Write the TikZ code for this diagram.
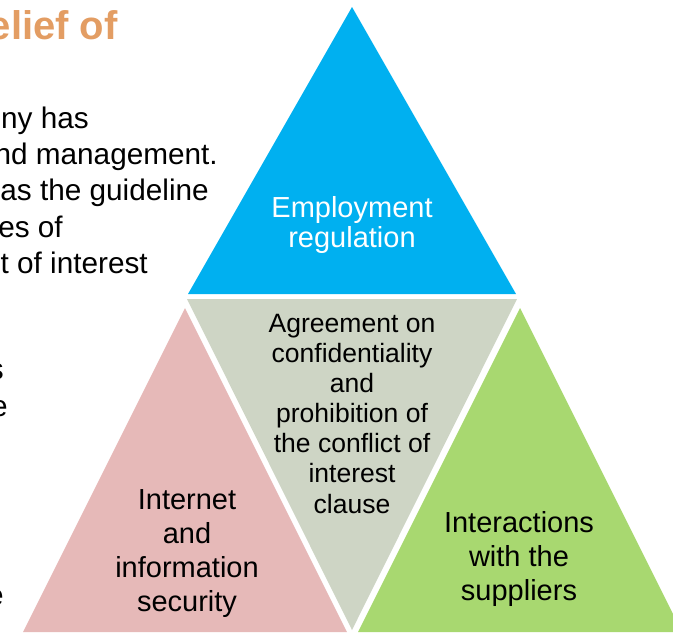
\documentclass[tikz,border=0pt]{standalone}
\usepackage{fontspec}
\setmainfont{Liberation Sans}
\usepackage{tikz}
\usetikzlibrary{positioning}
\definecolor{regblue}{RGB}{0,176,240}
\definecolor{agreegray}{RGB}{206,213,197}
\definecolor{netpink}{RGB}{230,185,184}
\definecolor{supgreen}{RGB}{168,216,112}
\definecolor{titleorange}{RGB}{227,157,99}

\tikzset{
  trilabel/.style={align=center, anchor=base, inner sep=0pt,
    font=\fontsize{21.75}{22.5}\selectfont},
  sidetext/.style={anchor=base east, inner sep=0pt,
    font=\fontsize{22.3}{27}\selectfont}
}

\begin{document}
\begin{tikzpicture}[x=0.75pt, y=-0.75pt]
  \useasboundingbox (0,0) rectangle (673,633);

  % the four triangles
  \fill[regblue]   (352,7)   -- (188,294) -- (516,294) -- cycle;
  \fill[agreegray] (187,299) -- (517,299) -- (352,630) -- cycle;
  \fill[netpink]   (185,308) -- (23,632)  -- (347,632) -- cycle;
  \fill[supgreen]  (520,308) -- (358,632) -- (682,632) -- cycle;

  % labels, placed at the baseline of their last line
  \node[trilabel, text=white] (employ) at (352,247)
    {Employment\\regulation};
  \node[trilabel, font=\fontsize{19.9}{22.6}\selectfont] (agree) at (352,513)
    {Agreement on\\confidentiality\\and\\prohibition of\\the conflict of\\interest\\clause};
  \node[trilabel, font=\fontsize{21.75}{25.5}\selectfont] (internet) at (187,611)
    {Internet\\and\\information\\security};
  \node[trilabel, font=\fontsize{21.75}{25.5}\selectfont] (supply) at (519,600)
    {Interactions\\with the\\suppliers};

  % text of the slide, cut at the left edge
  \begin{scope}
    \clip (0,0) rectangle (673,633);
    \node[sidetext, text=titleorange, font=\fontsize{30}{36}\selectfont\bfseries]
      (title) at (118,39) {elief of};
    \node[sidetext] (line1) at (89,128) {ny has};
    \node[sidetext] (line2) at (218,164) {nd management.};
    \node[sidetext] (line3) at (209,200) {as the guideline};
    \node[sidetext] (line4) at (63,237) {es of};
    \node[sidetext] (line5) at (148,273) {t of interest};
    \node[sidetext] (line6) at (4,379) {s};
    \node[sidetext] (line7) at (8,416) {e};
    \node[sidetext] (line8) at (4,605) {e};
  \end{scope}
\end{tikzpicture}
\end{document}
